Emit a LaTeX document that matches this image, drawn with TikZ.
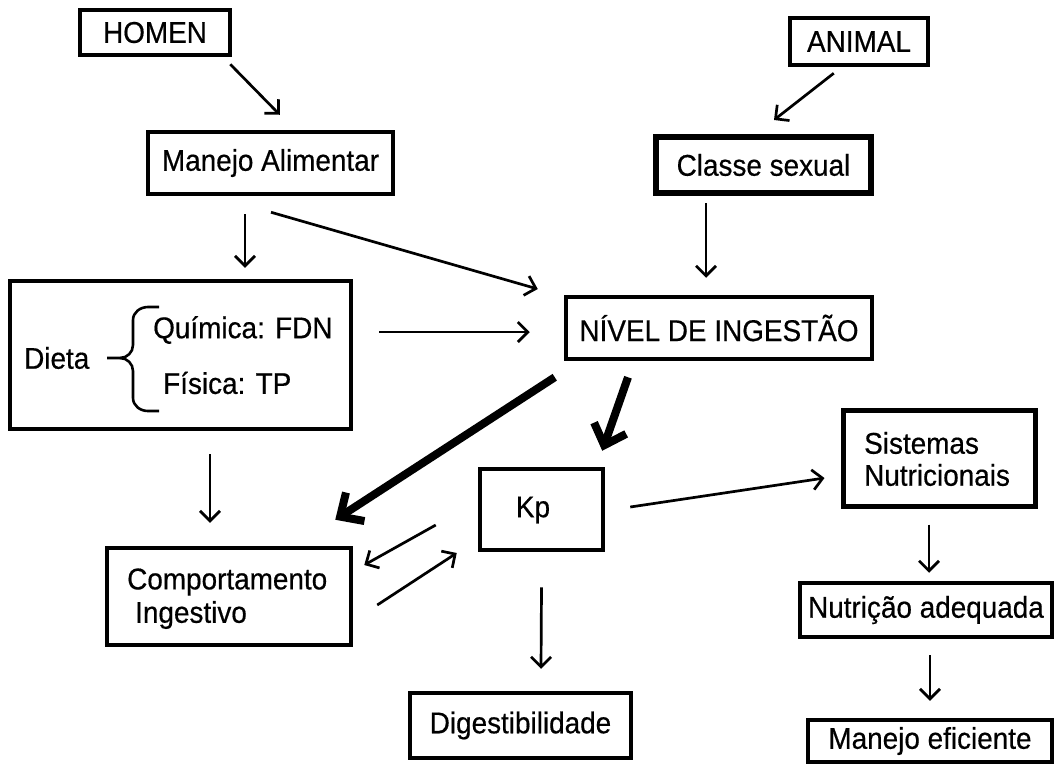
\documentclass[tikz,border=0pt]{standalone}
\usepackage{fontspec}
\setmainfont{Liberation Sans}[FakeStretch=0.93,FakeBold=0.5]
\usetikzlibrary{arrows.meta}
\begin{document}
\begin{tikzpicture}[x=1pt,y=-1pt,
  box/.style={draw, line width=4.5pt, rectangle, inner sep=0pt, font=\fontsize{30}{32}\selectfont},
  lbl/.style={inner sep=0pt, font=\fontsize{30}{32}\selectfont},
  arr/.style={line width=2.7pt, -{Straight Barb[length=10pt,width=20pt]}},
  heavy/.style={line width=8pt, -{Straight Barb[length=18pt,width=34pt]}}]
\useasboundingbox (0,0) rectangle (1054,764);
% boxes
\node[box, minimum width=150, minimum height=45] (homen) at (155,32.5) {HOMEN};
\node[box, minimum width=245, minimum height=62] (manejo) at (270.5,163) {Manejo Alimentar};
\node[box, minimum width=138, minimum height=47] (animal) at (859,41.5) {ANIMAL};
\node[box, line width=6pt, minimum width=215, minimum height=56] (classe) at (763.5,165) {Classe sexual};
\node[box, minimum width=306, minimum height=62] (nivel) at (719,328) {NÍVEL DE INGESTÃO};
\node[box, minimum width=341, minimum height=148] (dieta) at (180.5,355) {};
\node[box, minimum width=123, minimum height=81] (kp) at (541.5,509.5) {};
\node[box, line width=5pt, minimum width=192, minimum height=96] (sist) at (939,458) {};
\node[box, minimum width=244, minimum height=97] (comport) at (229,596.5) {};
\node[box, minimum width=221, minimum height=65] (digest) at (520.5,725.5) {Digestibilidade};
\node[box, minimum width=252, minimum height=54] (nutr) at (926,610) {Nutrição adequada};
\node[box, minimum width=244, minimum height=42] (mef) at (930,741) {Manejo eficiente};
% inner texts
\node[lbl, anchor=west] (tdieta) at (24,358) {Dieta};
\node[lbl, anchor=west] (tquim) at (153,330) {Química: FDN};
\node[lbl, anchor=west] (tfis) at (163,383) {Física: TP};
\node[lbl] (tkp) at (533,510) {Kp};
\node[lbl, anchor=west] (tsist1) at (864,443) {Sistemas};
\node[lbl, anchor=west] (tsist2) at (864,475) {Nutricionais};
\node[lbl, anchor=west] (tcomp1) at (127,582) {Comportamento};
\node[lbl, anchor=west] (tcomp2) at (135,615) {Ingestivo};
% brace
\draw[line width=2.6pt] (107,358) -- (120,358) to[out=0,in=-90] (133,345) -- (133,320)
  to[out=90,in=180] (148,307) -- (159,307);
\draw[line width=2.6pt] (120,358) to[out=0,in=90] (133,371) -- (133,398)
  to[out=-90,in=180] (148,411) -- (159,411);
% thin arrows
\draw[arr] ([shift={(-2,7)}]homen.south east) -- ([shift={(134,-15)}]manejo.north west);
\draw[arr] ([shift={(46,6)}]animal.south west) -- ([shift={(10.5,-14)}]classe.north);
\draw[arr] ([shift={(-25.5,18)}]manejo.south) -- ([shift={(64.5,-11)}]dieta.north);
\draw[arr] ([shift={(0.5,16)}]manejo.south) -- ([shift={(-26,-39)}]nivel.west);
\draw[arr] ([shift={(-57.5,7)}]classe.south) -- ([shift={(-13,-17)}]nivel.north);
\draw[arr] ([shift={(26,-23)}]dieta.east) -- ([shift={(-34,4)}]nivel.west);
\draw[arr] ([shift={(29.5,23)}]dieta.south) -- ([shift={(-19,-23)}]comport.north);
\draw[arr] ([shift={(-42,15.5)}]kp.west) -- ([shift={(11,-31.5)}]comport.east);
\draw[arr] ([shift={(24,8.5)}]comport.east) -- ([shift={(-21,43.5)}]kp.west);
\draw[arr] ([shift={(0,35)}]kp.south) -- ([shift={(20.5,-22)}]digest.north);
\draw[arr] ([shift={(25,-2.5)}]kp.east) -- ([shift={(-16,20)}]sist.west);
\draw[arr] ([shift={(-10,16)}]sist.south) -- ([shift={(3,-8)}]nutr.north);
\draw[arr] ([shift={(4,16)}]nutr.south) -- ([shift={(0,-17)}]mef.north);
% heavy arrows
\draw[heavy] ([shift={(-9,16)}]nivel.south west) -- ([shift={(-18,-26)}]comport.north east);
\draw[heavy] ([shift={(-91,16)}]nivel.south) -- ([shift={(-3,-16)}]kp.north east);
\end{tikzpicture}
\end{document}
